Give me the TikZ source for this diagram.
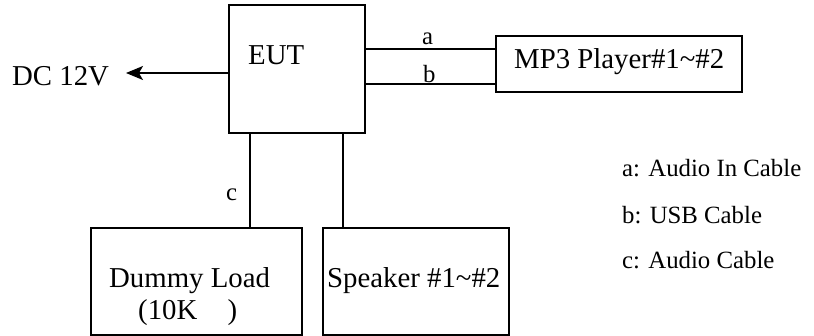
\documentclass[tikz,border=0pt]{standalone}
\usepackage{fontspec}
\setmainfont{Liberation Serif}
\usetikzlibrary{arrows.meta}
\begin{document}
\begin{tikzpicture}[x=1pt,y=-1pt,
  box/.style={draw,line width=1.6pt,inner sep=0pt,anchor=north west},
  wire/.style={line width=1.3pt},
  big/.style={font=\fontsize{28.8}{34}\selectfont,inner sep=0pt,anchor=base west},
  small/.style={font=\fontsize{24.8}{30}\selectfont,inner sep=0pt,anchor=base west}]
\useasboundingbox (0,0) rectangle (814,335);
% boxes
\node[box,minimum width=136pt,minimum height=128pt] (eut) at (228,4) {};
\node[box,minimum width=246pt,minimum height=56pt] (mp3) at (495,35) {};
\node[box,minimum width=211pt,minimum height=107pt] (dummy) at (90,227) {};
\node[box,minimum width=186pt,minimum height=107pt] (spk) at (322,227) {};
% texts
\node[big] (eutt) at (248,64) {EUT};
\node[big] (dc) at (12,85) {DC 12V};
\node[big] (mp3t) at (514,68) {MP3 Player\#1\textasciitilde\#2};
\node[big] (dl) at (109,287) {Dummy Load};
\node[big] (dl2) at (138,319) {(10K\hspace{1.05em})};
\node[big] (spkt) at (327,287) {Speaker \#1\textasciitilde\#2};
\node[small] (la) at (422,44) {a};
\node[small] (lb) at (423,82) {b};
\node[small] (lc) at (226,200) {c};
\node[small] (lega) at (622,176) {a: Audio In Cable};
\node[small] (legb) at (622,223) {b: USB Cable};
\node[small] (legc) at (622,268) {c: Audio Cable};
% coordinates
\coordinate (ya) at (0,49);
\coordinate (yb) at (0,84);
\coordinate (ydc) at (0,73);
\coordinate (tip) at (126,73);
\coordinate (xc) at (250,0);
\coordinate (xs) at (343,0);
% connectors
\draw[wire] (eut.east |- ya) -- (mp3.west |- ya);
\draw[wire] (eut.east |- yb) -- (mp3.west |- yb);
\draw[wire,-{Stealth[length=17pt,width=14pt,inset=4pt]}] (eut.west |- ydc) -- (tip);
\draw[wire] (eut.south -| xc) -- (dummy.north -| xc);
\draw[wire] (eut.south -| xs) -- (spk.north -| xs);
\end{tikzpicture}
\end{document}
